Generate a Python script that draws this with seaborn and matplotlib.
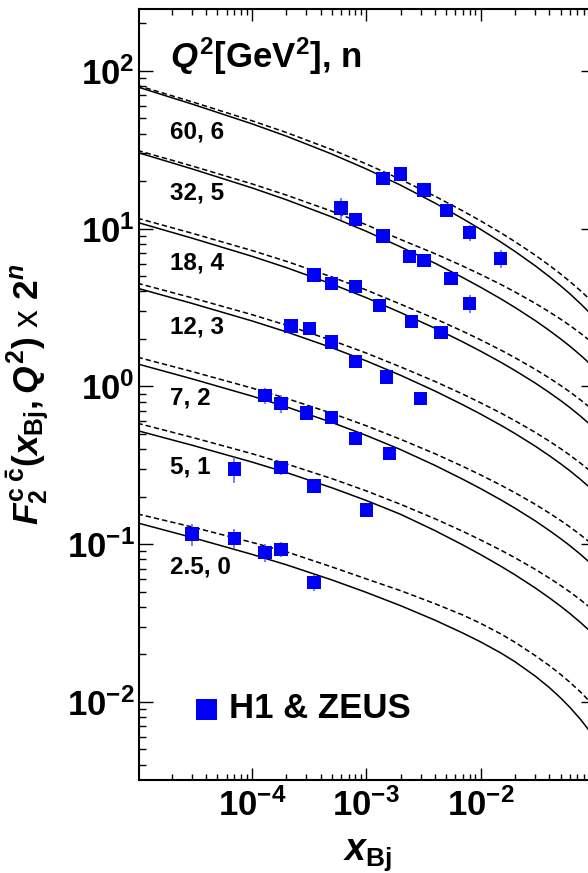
import numpy as np
import pandas as pd
import matplotlib
matplotlib.use("Agg")
import matplotlib.pyplot as plt
import seaborn as sns
from matplotlib.ticker import LogLocator, NullFormatter

# Q^2 [GeV^2], n  (curves and points are scaled by 2^n)
bins = ["60, 6", "32, 5", "18, 4", "12, 3", "7, 2", "5, 1", "2.5, 0"]

# theory curves at these x values
x_curve = [1e-5, 3e-5, 1e-4, 2e-4, 5e-4, 1e-3, 2e-3, 4e-3, 7e-3, 1e-2,
           1.5e-2, 2e-2, 3e-2, 4e-2, 5e-2, 6e-2, 7.5e-2, 1e-1]

solid_60 = [79.17, 61.66, 46.23, 38.61, 29.73, 23.92, 18.86, 14.52, 11.55, 9.905,
            8.237, 7.170, 5.821, 4.958, 4.345, 3.878, 3.338, 2.713]
dashed_60 = [80.93, 63.72, 48.37, 40.72, 31.72, 25.76, 20.52, 16.05, 12.95, 11.21,
             9.423, 8.270, 6.799, 5.846, 5.165, 4.642, 4.032, 3.317]
solid_32 = [30.43, 23.93, 18.15, 15.26, 11.87, 9.630, 7.661, 6.034, 4.895, 4.253,
            3.594, 3.165, 2.616, 2.259, 2.002, 1.805, 1.574, 1.302]
dashed_32 = [31.34, 24.98, 19.24, 16.34, 12.90, 10.59, 8.535, 6.940, 5.792, 5.128,
             4.432, 3.970, 3.366, 2.965, 2.671, 2.441, 2.168, 1.840]
solid_18 = [10.96, 8.709, 6.687, 5.667, 4.459, 3.653, 2.937, 2.337, 1.914, 1.673,
            1.424, 1.261, 1.051, 0.9135, 0.8140, 0.7372, 0.6465, 0.5391]
dashed_18 = [11.65, 9.359, 7.275, 6.214, 4.944, 4.088, 3.320, 2.688, 2.235, 1.974,
             1.701, 1.520, 1.285, 1.129, 1.015, 0.9256, 0.8201, 0.6935]
solid_12 = [4.193, 3.360, 2.603, 2.219, 1.760, 1.452, 1.176, 0.9346, 0.7645, 0.6679,
            0.5678, 0.5027, 0.4184, 0.3634, 0.3236, 0.2929, 0.2567, 0.2140]
dashed_12 = [4.510, 3.645, 2.853, 2.447, 1.959, 1.628, 1.329, 1.075, 0.8929, 0.7880,
             0.6784, 0.6060, 0.5116, 0.4491, 0.4034, 0.3678, 0.3256, 0.2751]
solid_7 = [1.389, 1.117, 0.8688, 0.7425, 0.5913, 0.4892, 0.3975, 0.3155, 0.2577, 0.2250,
           0.1911, 0.1690, 0.1406, 0.1219, 0.1085, 0.09814, 0.08597, 0.07153]
dashed_7 = [1.532, 1.243, 0.9771, 0.8406, 0.6758, 0.5634, 0.4620, 0.3742, 0.3112, 0.2749,
            0.2369, 0.2118, 0.1790, 0.1572, 0.1414, 0.1290, 0.1143, 0.09668]
solid_5 = [0.5245, 0.4240, 0.3318, 0.2846, 0.2278, 0.1893, 0.1546, 0.1218, 0.09883, 0.08588,
           0.07255, 0.06392, 0.05284, 0.04563, 0.04046, 0.03646, 0.03180, 0.02631]
dashed_5 = [0.5844, 0.4756, 0.3749, 0.3231, 0.2605, 0.2177, 0.1789, 0.1449, 0.1205, 0.1064,
            0.09173, 0.08200, 0.06930, 0.06088, 0.05475, 0.04995, 0.04426, 0.03744]
solid_25 = [0.1364, 0.1103, 0.08622, 0.07405, 0.05936, 0.04949, 0.04074, 0.03296, 0.02732,
            0.02402, 0.02045, 0.01797, 0.01459, 0.01231, 0.01061, 0.009280, 0.007722, 0.005907]
dashed_25 = [0.1555, 0.1286, 0.1027, 0.08953, 0.07176, 0.06026, 0.05071, 0.04193, 0.03554,
             0.03147, 0.02699, 0.02388, 0.01968, 0.01696, 0.01495, 0.01337, 0.01153, 0.009291]

solid_curves = [solid_60, solid_32, solid_18, solid_12, solid_7, solid_5, solid_25]
dashed_curves = [dashed_60, dashed_32, dashed_18, dashed_12, dashed_7, dashed_5, dashed_25]

# H1 & ZEUS combined points
x_60 = [1.4e-3, 2.0e-3, 3.2e-3, 5.0e-3, 8.0e-3, 1.5e-2]
y_60 = [20.9, 22.2, 17.6, 13.0, 9.5, 6.5]
e_60 = [1.6, 1.5, 1.3, 1.0, 1.1, 0.85]
x_32 = [6.0e-4, 8.0e-4, 1.4e-3, 2.4e-3, 3.2e-3, 5.5e-3]
y_32 = [13.5, 11.4, 9.0, 6.65, 6.3, 4.85]
e_32 = [2.1, 0.9, 0.7, 0.5, 0.5, 0.4]
x_18 = [3.5e-4, 5.0e-4, 8.0e-4, 1.3e-3, 2.5e-3, 4.5e-3, 8.0e-3]
y_18 = [5.09, 4.51, 4.29, 3.25, 2.57, 2.19, 3.37]
e_18 = [0.45, 0.35, 0.33, 0.25, 0.2, 0.2, 0.43]
x_12 = [2.2e-4, 3.2e-4, 5.0e-4, 8.0e-4, 1.5e-3, 3.0e-3]
y_12 = [2.42, 2.34, 1.91, 1.44, 1.15, 0.84]
e_12 = [0.2, 0.2, 0.15, 0.11, 0.1, 0.07]
x_7 = [1.3e-4, 1.8e-4, 3.0e-4, 5.0e-4, 8.0e-4, 1.6e-3]
y_7 = [0.875, 0.78, 0.68, 0.634, 0.47, 0.377]
e_7 = [0.1, 0.1, 0.05, 0.05, 0.04, 0.035]
x_5 = [7.0e-5, 1.8e-4, 3.5e-4, 1.0e-3]
y_5 = [0.30, 0.306, 0.234, 0.165]
e_5 = [0.056, 0.03, 0.022, 0.017]
x_25 = [3.0e-5, 7.0e-5, 1.3e-4, 1.8e-4, 3.5e-4]
y_25 = [0.116, 0.109, 0.089, 0.093, 0.057]
e_25 = [0.018, 0.016, 0.012, 0.01, 0.0065]

x_points = [x_60, x_32, x_18, x_12, x_7, x_5, x_25]
y_points = [y_60, y_32, y_18, y_12, y_7, y_5, y_25]
e_points = [e_60, e_32, e_18, e_12, e_7, e_5, e_25]

x_ticks = [1e-4, 1e-3, 1e-2]
x_tick_labels = [r"$10^{-4}$", r"$10^{-3}$", r"$10^{-2}$"]
y_ticks = [1e-2, 1e-1, 1e0, 1e1, 1e2]
y_tick_labels = [r"$10^{-2}$", r"$10^{-1}$", r"$10^{0}$", r"$10^{1}$", r"$10^{2}$"]

# ---- long-form tables ----
rows = []
for lab, sol, das in zip(bins, solid_curves, dashed_curves):
    for model, vals in (("solid", sol), ("dashed", das)):
        for xv, yv in zip(x_curve, vals):
            rows.append({"x": xv, "F2": yv, "curve": lab + model, "model": model})
df_curves = pd.DataFrame(rows)

rows = []
for lab, xs, ys, es in zip(bins, x_points, y_points, e_points):
    for xv, yv, ev in zip(xs, ys, es):
        rows.append({"x": xv, "F2": yv, "err": ev, "bin": lab})
df_pts = pd.DataFrame(rows)

# ---- style ----
sns.set_style("ticks")
plt.rcParams["font.family"] = ["Liberation Sans", "DejaVu Sans"]
plt.rcParams["font.weight"] = "bold"
plt.rcParams["text.color"] = "black"
plt.rcParams["axes.labelcolor"] = "black"
plt.rcParams["xtick.color"] = "black"
plt.rcParams["ytick.color"] = "black"
plt.rcParams["mathtext.fontset"] = "custom"
plt.rcParams["mathtext.rm"] = "Liberation Sans:bold"
plt.rcParams["mathtext.bf"] = "Liberation Sans:bold"
plt.rcParams["mathtext.it"] = "Liberation Sans:bold:italic"
plt.rcParams["mathtext.default"] = "rm"

fig = plt.figure(figsize=(5.88, 8.73), dpi=100)
ax = fig.add_axes([139 / 588, 93 / 873, 456 / 588, 771 / 873])
ax.set_xscale("log")
ax.set_yscale("log")

sns.lineplot(data=df_curves, x="x", y="F2", units="curve", estimator=None,
             style="model", dashes={"solid": "", "dashed": (3.5, 2)},
             color="black", lw=1.1, sort=False, legend=False, ax=ax)

ax.errorbar(df_pts["x"], df_pts["F2"], yerr=df_pts["err"], fmt="none",
            ecolor="#5a5aff", elinewidth=1.1, capsize=0, zorder=3,
            label="_nolegend_")
sns.scatterplot(data=df_pts, x="x", y="F2", marker="s", s=92,
                color="#0000f5", edgecolor="none", linewidth=0,
                zorder=4, label="H1 & ZEUS", ax=ax)

ax.set_xlim(1.03e-5, 0.1)
ax.set_ylim(3.2e-3, 247)

ax.set_xticks(x_ticks, x_tick_labels)
ax.set_yticks(y_ticks, y_tick_labels)
ax.xaxis.set_minor_locator(LogLocator(base=10, subs=np.arange(2, 10), numticks=20))
ax.yaxis.set_minor_locator(LogLocator(base=10, subs=np.arange(2, 10), numticks=20))
ax.xaxis.set_minor_formatter(NullFormatter())
ax.yaxis.set_minor_formatter(NullFormatter())

ax.tick_params(which="both", direction="in", top=True, right=True,
               width=1.0, color="black", labelsize=25, labelcolor="black")
ax.tick_params(axis="y", which="major", length=10, pad=3)
ax.tick_params(axis="y", which="minor", length=5.3)
ax.tick_params(axis="x", which="major", length=8.7, pad=6)
ax.tick_params(axis="x", which="minor", length=4.3)
for sp in ax.spines.values():
    sp.set_linewidth(1.5)
    sp.set_color("black")

ax.set_xlabel(r"$\mathit{x}_{\mathrm{Bj}}$", fontsize=27)
ax.set_ylabel(r"$\mathit{F}_2^{c\;\bar{c}}(\mathit{x}_{\mathrm{Bj}},\mathit{Q}^2)$ x $2^{\mathit{n}}$",
              fontsize=25.5)
ax.xaxis.set_label_coords(0.5, -0.074)
ax.yaxis.set_label_coords(-0.19, 0.5)

ax.text(0.068, 0.9235, r"$\mathit{Q}^2$[GeV$^2$], n", transform=ax.transAxes,
        fontsize=25, ha="left", va="baseline")

label_y = [41.2, 16.8, 6.04, 2.39, 0.84, 0.31, 0.072]
for lab, yv in zip(bins, label_y):
    ax.text(0.068, yv, lab, transform=ax.get_yaxis_transform(),
            fontsize=17.5, ha="left", va="center")

ax.legend(loc="center left", bbox_to_anchor=(0.1206, 0.0921), frameon=False,
          fontsize=25, markerscale=1.57, handlelength=0.7, handletextpad=0.3,
          borderpad=0, borderaxespad=0)

fig.savefig("out.png", dpi=100)
